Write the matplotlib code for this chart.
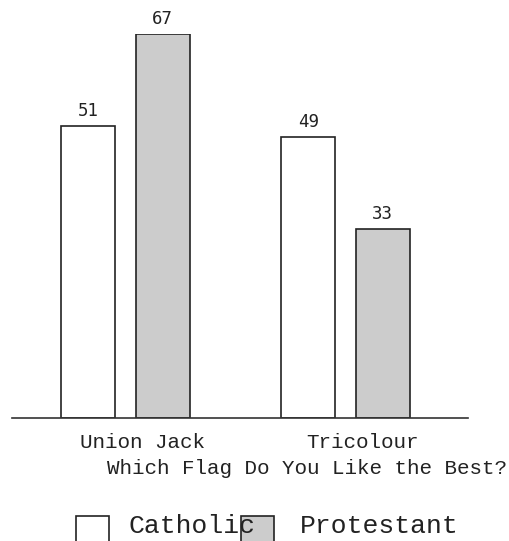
import matplotlib
matplotlib.use("Agg")
import matplotlib.pyplot as plt
from matplotlib.patches import Rectangle

groups = ["Union Jack", "Tricolour"]
catholic = [51, 49]
protestant = [67, 33]
series_names = ["Catholic", "Protestant"]

W, H = 510, 541
fig = plt.figure(figsize=(W / 100, H / 100), dpi=100)
ax = fig.add_axes([12 / W, (H - 418) / H, 456 / W, 384 / H])

x = [0, 1]
bw = 0.245
off = 0.169
b1 = ax.bar([i - off for i in x], catholic, bw, color="white", edgecolor="#222222", linewidth=1.2)
b2 = ax.bar([i + off for i in x], protestant, bw, color="#cccccc", edgecolor="#222222", linewidth=1.2)

for bars, vals in [(b1, catholic), (b2, protestant)]:
    for r, v in zip(bars, vals):
        ax.text(r.get_x() + r.get_width() / 2, v + 1.0, str(v), ha="center", va="bottom",
                family="DejaVu Sans Mono", fontsize=12.5, color="#222222", clip_on=False)

ax.set_xlim(-0.516, 1.557)
ax.set_ylim(0, 67)
for s in ["top", "right", "left"]:
    ax.spines[s].set_visible(False)
ax.spines["bottom"].set_color("#333333")
ax.spines["bottom"].set_linewidth(1.2)
ax.set_yticks([])
ax.set_xticks([i + 0.079 for i in x])
ax.set_xticklabels(groups, family="Liberation Mono", fontsize=15, color="#222222")
ax.tick_params(axis="x", length=0, pad=11)

fig.text(307 / W, 1 - 468 / H, "Which Flag Do You Like the Best?", ha="center", va="center",
         family="Liberation Mono", fontsize=15, color="#222222")

# legend drawn by hand (the grey box sits under the last letter of Catholic)
for bx, col, tx, name in [(76, "white", 129, series_names[0]), (241, "#cccccc", 300, series_names[1])]:
    fig.patches.append(Rectangle((bx / W, -10 / H), 33 / W, (H - 516 + 10) / H, transform=fig.transFigure,
                                 facecolor=col, edgecolor="#222222", linewidth=1.2, zorder=1))
    fig.text(tx / W, 1 - 533 / H, name, ha="left", va="baseline", family="Liberation Mono",
             fontsize=19, color="#222222", zorder=5)

fig.savefig("out.png", dpi=100)
